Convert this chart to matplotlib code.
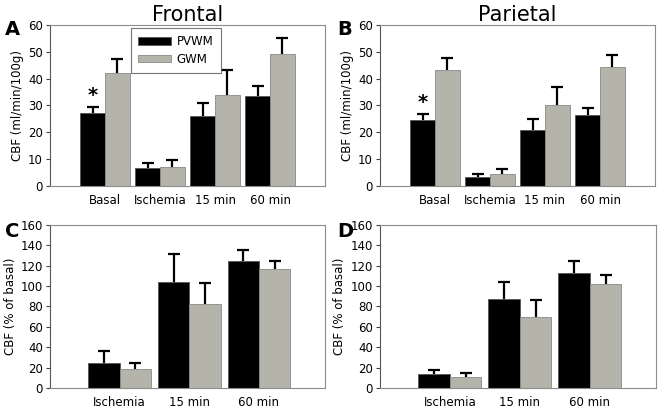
import numpy as np
import matplotlib.pyplot as plt

# top row: absolute CBF
groups_top = ["Basal", "Ischemia", "15 min", "60 min"]
front_pvwm = [27.0, 6.5, 26.0, 33.5]
front_pvwm_err = [2.3, 2.0, 5.0, 3.8]
front_gwm = [42.0, 7.2, 33.7, 49.0]
front_gwm_err = [5.2, 2.3, 9.6, 6.3]
par_pvwm = [24.5, 3.3, 21.0, 26.5]
par_pvwm_err = [2.2, 1.0, 4.0, 2.5]
par_gwm = [43.2, 4.6, 30.2, 44.2]
par_gwm_err = [4.4, 1.7, 6.7, 4.6]

# bottom row: % of basal
groups_bot = ["Ischemia", "15 min", "60 min"]
front_pct_pvwm = [25.0, 104.0, 125.0]
front_pct_pvwm_err = [11.0, 27.0, 10.0]
front_pct_gwm = [19.0, 82.0, 116.5]
front_pct_gwm_err = [5.5, 21.5, 8.5]
par_pct_pvwm = [14.0, 87.5, 112.5]
par_pct_pvwm_err = [4.0, 17.0, 12.5]
par_pct_gwm = [10.5, 69.5, 102.0]
par_pct_gwm_err = [4.0, 17.0, 8.5]

black = "#000000"
grey = "#b4b4aa"
frame = "#8c8c8c"

fig = plt.figure(figsize=(6.63, 4.15), dpi=100)

def upper_err(ax, x, y, e):
    eb = ax.errorbar(x, y, yerr=[np.zeros(len(y)), e], fmt="none",
                     ecolor="black", elinewidth=1.6, capsize=4, capthick=1.6, zorder=1)
    eb[1][0].set_visible(False)  # hide the lower cap

def panel(rect, groups, a, ae, b, be, ylim, yticks, ylabel, xlim, w):
    ax = fig.add_axes(rect)
    x = np.arange(len(groups))
    ax.bar(x - w/2, a, w, color=black, edgecolor="#555555", linewidth=0.6, label="PVWM", zorder=2)
    ax.bar(x + w/2, b, w, color=grey, edgecolor="#888888", linewidth=0.6, label="GWM", zorder=2)
    upper_err(ax, x - w/2, a, ae)
    upper_err(ax, x + w/2, b, be)
    ax.set_xlim(*xlim)
    ax.set_ylim(*ylim)
    ax.set_yticks(yticks)
    ax.set_xticks(x)
    ax.set_xticklabels(groups, fontsize=8.5)
    ax.tick_params(axis="x", length=0, pad=6)
    ax.tick_params(axis="y", labelsize=8.5, length=3, width=0.8, color="#444444", pad=2)
    for s in ax.spines.values():
        s.set_color(frame)
        s.set_linewidth(0.8)
    ax.spines["left"].set_color("#555555")
    ax.set_ylabel(ylabel, fontsize=8.5, labelpad=3)
    return ax

axA = panel([0.0754, 0.552, 0.415, 0.388], groups_top, front_pvwm, front_pvwm_err,
            front_gwm, front_gwm_err, (0, 60), range(0, 61, 10),
            "CBF (ml/min/100g)", (-1, 4), 0.45)
axB = panel([0.573, 0.552, 0.415, 0.388], groups_top, par_pvwm, par_pvwm_err,
            par_gwm, par_gwm_err, (0, 60), range(0, 61, 10),
            "CBF (ml/min/100g)", (-1, 4), 0.45)
axC = panel([0.0754, 0.065, 0.415, 0.393], groups_bot, front_pct_pvwm, front_pct_pvwm_err,
            front_pct_gwm, front_pct_gwm_err, (0, 160), range(0, 161, 20),
            "CBF (% of basal)", (-1, 2.95), 0.45)
axD = panel([0.573, 0.065, 0.417, 0.393], groups_bot, par_pct_pvwm, par_pct_pvwm_err,
            par_pct_gwm, par_pct_gwm_err, (0, 160), range(0, 161, 20),
            "CBF (% of basal)", (-1, 2.95), 0.45)

axA.set_title("Frontal", fontsize=15, pad=3)
axB.set_title("Parietal", fontsize=15, pad=3)

# significance markers above basal PVWM
axA.text(-0.225, 30.0, "*", ha="center", va="bottom", fontsize=14, fontweight="bold")
axB.text(-0.225, 27.5, "*", ha="center", va="bottom", fontsize=14, fontweight="bold")

leg = axA.legend(loc="upper left", bbox_to_anchor=(0.285, 0.995), fontsize=8.5,
                 frameon=True, fancybox=False, edgecolor="#555555",
                 handlelength=2.8, handleheight=0.55, handletextpad=0.5,
                 borderpad=0.6, labelspacing=0.4, borderaxespad=0.2)
leg.get_frame().set_linewidth(0.8)

for lbl, xx, yy in [("A", 0.008, 0.915), ("B", 0.508, 0.915),
                    ("C", 0.008, 0.43), ("D", 0.508, 0.43)]:
    fig.text(xx, yy, lbl, fontsize=14, fontweight="bold")

fig.savefig("out.png", dpi=100)
